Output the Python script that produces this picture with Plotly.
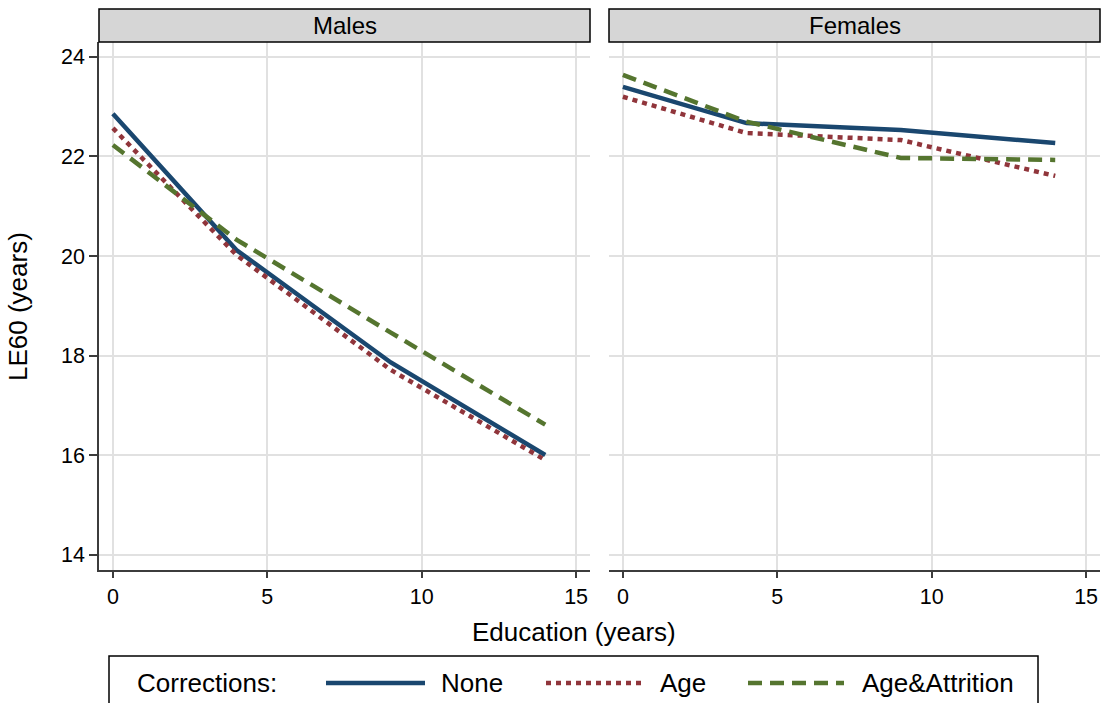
import plotly.graph_objects as go

# ---- data ----
education = [0, 4, 9, 14]
males_none = [22.86, 20.12, 17.86, 16.00]
males_age = [22.57, 20.02, 17.71, 15.90]
males_attr = [22.23, 20.33, 18.46, 16.61]
females_none = [23.40, 22.67, 22.53, 22.27]
females_age = [23.20, 22.47, 22.33, 21.61]
females_attr = [23.64, 22.70, 21.97, 21.93]
panels = ["Males", "Females"]
series_names = ["None", "Age", "Age&Attrition"]
x_ticks = [0, 5, 10, 15]
y_ticks = [14, 16, 18, 20, 22, 24]

W, H = 1102, 703
FONT = "Liberation Sans, Arial, Helvetica, sans-serif"
colors = ["#1a476f", "#90353b", "#55752f"]
dashes = ["solid", "5px,5px", "14px,8px"]
AXC = "#3c3c3c"
GRID = "#e1e1e1"


def px(x):
    return x / W


def py(y):
    return 1 - y / H


fig = go.Figure()
data = [(males_none, males_age, males_attr), (females_none, females_age, females_attr)]
for p, series in enumerate(data):
    xa = "x" if p == 0 else "x2"
    ya = "y" if p == 0 else "y2"
    for i, vals in enumerate(series):
        fig.add_trace(go.Scatter(
            x=education, y=vals, mode="lines", name=series_names[i],
            line=dict(color=colors[i], width=4.5, dash=dashes[i]),
            xaxis=xa, yaxis=ya, showlegend=False, hoverinfo="skip"))

left = (99, 590)
right = (609, 1100)
top, bottom = 42, 569.5

xcommon = dict(range=[-0.45, 15.45], tickvals=x_ticks, showgrid=True, gridcolor=GRID,
               gridwidth=1.5, zeroline=False, showline=True, linecolor=AXC, linewidth=1.5,
               ticks="outside", ticklen=7, tickcolor=AXC, tickwidth=1.5,
               tickfont=dict(family=FONT, size=21.5, color="#000"))
ycommon = dict(range=[13.7, 24.3], tickvals=y_ticks, showgrid=True, gridcolor=GRID,
               gridwidth=1.5, zeroline=False, ticks="outside", ticklen=8,
               tickcolor=AXC, tickwidth=1.5,
               tickfont=dict(family=FONT, size=21.5, color="#000"),
               domain=[py(bottom), py(top)])

fig.update_layout(
    width=W, height=H, margin=dict(l=0, r=0, t=0, b=0),
    plot_bgcolor="white", paper_bgcolor="white", showlegend=False,
    xaxis=dict(xcommon, domain=[px(left[0]), px(left[1])], anchor="y"),
    xaxis2=dict(xcommon, domain=[px(right[0]), px(right[1])], anchor="y2"),
    yaxis=dict(ycommon, showline=True, linecolor=AXC, linewidth=1.5, anchor="x"),
    yaxis2=dict(ycommon, showline=False, showticklabels=False, ticks="", anchor="x2"),
)

shapes = []
annotations = []
# strips
for (x0, x1), name in zip([left, right], panels):
    shapes.append(dict(type="rect", xref="paper", yref="paper",
                       x0=px(x0), x1=px(x1), y0=py(42), y1=py(9),
                       fillcolor="#d6d6d6", line=dict(color="#000", width=1.5)))
    annotations.append(dict(xref="paper", yref="paper", x=(px(x0) + px(x1)) / 2, y=py(25.5),
                            text=name, showarrow=False, xanchor="center", yanchor="middle",
                            font=dict(family=FONT, size=24, color="#000")))

# axis titles
annotations.append(dict(xref="paper", yref="paper", x=px(574), y=py(632), text="Education (years)",
                        showarrow=False, xanchor="center", yanchor="middle",
                        font=dict(family=FONT, size=26, color="#000")))
annotations.append(dict(xref="paper", yref="paper", x=px(18), y=py(307), text="LE60 (years)",
                        showarrow=False, xanchor="center", yanchor="middle", textangle=-90,
                        font=dict(family=FONT, size=26, color="#000")))

# legend box
shapes.append(dict(type="rect", xref="paper", yref="paper", x0=px(109), x1=px(1038),
                   y0=py(712), y1=py(656), fillcolor="white",
                   line=dict(color="#000", width=1.5)))
ly = 683
annotations.append(dict(xref="paper", yref="paper", x=px(135), y=py(ly), text="Corrections:",
                        showarrow=False, xanchor="left", yanchor="middle",
                        font=dict(family=FONT, size=26, color="#000")))
sample_pos = [(326, 425, 439), (546, 643, 658), (748, 844, 860)]
for i, (a, b, t) in enumerate(sample_pos):
    shapes.append(dict(type="line", xref="paper", yref="paper", x0=px(a), x1=px(b),
                       y0=py(ly), y1=py(ly),
                       line=dict(color=colors[i], width=4.5, dash=dashes[i])))
    annotations.append(dict(xref="paper", yref="paper", x=px(t), y=py(ly), text=series_names[i],
                            showarrow=False, xanchor="left", yanchor="middle",
                            font=dict(family=FONT, size=26, color="#000")))

fig.update_layout(shapes=shapes, annotations=annotations)
fig.write_html("out.html", config={"displayModeBar": False},
               post_script="document.body.style.margin='0';document.body.style.overflow='hidden';")
